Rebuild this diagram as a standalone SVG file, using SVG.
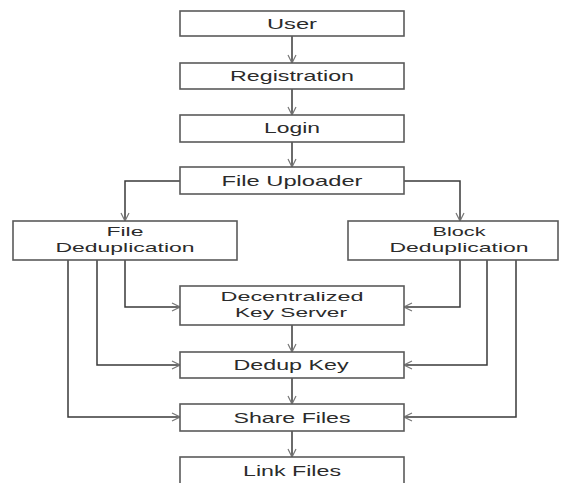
<svg xmlns="http://www.w3.org/2000/svg" width="561" height="483" viewBox="0 0 561 483">
<style>
.box{fill:#fff;stroke:#5a5a5a;stroke-width:1.6}
.t{font-family:"Liberation Sans",Arial,sans-serif;font-size:15px;fill:#2b2b2b;text-anchor:middle}
.t2{font-size:13.5px}
.c{fill:none;stroke:#3a3a3a;stroke-width:1.5;marker-end:url(#ah)}
</style>
<defs>
<marker id="ah" viewBox="0 0 10 10" refX="10" refY="5" markerWidth="10" markerHeight="10" markerUnits="userSpaceOnUse" orient="auto">
<path d="M2,1 L10,5 L2,9" fill="none" stroke="#777" stroke-width="1.2"/>
</marker>
</defs>
<rect width="561" height="483" fill="#fff"/>
<g id="connectors">
<path class="c" d="M292,36 V63"/>
<path class="c" d="M292,89 V115"/>
<path class="c" d="M292,142 V167"/>
<path class="c" d="M180,181 H125 V221"/>
<path class="c" d="M404,181 H460 V221"/>
<path class="c" d="M125,260 V307 H180"/>
<path class="c" d="M97,260 V365 H180"/>
<path class="c" d="M68,260 V417 H180"/>
<path class="c" d="M460,260 V307 H404"/>
<path class="c" d="M487,260 V365 H404"/>
<path class="c" d="M516,260 V417 H404"/>
<path class="c" d="M292,325 V352"/>
<path class="c" d="M292,378 V404"/>
<path class="c" d="M292,431 V457"/>
</g>
<g id="user"><rect class="box" x="180" y="11" width="224" height="25"/><text class="t" x="292" y="29" textLength="50" lengthAdjust="spacingAndGlyphs">User</text></g>
<g id="registration"><rect class="box" x="180" y="63" width="224" height="26"/><text class="t" x="292" y="81" textLength="124" lengthAdjust="spacingAndGlyphs">Registration</text></g>
<g id="login"><rect class="box" x="180" y="115" width="224" height="27"/><text class="t" x="292" y="133" textLength="56" lengthAdjust="spacingAndGlyphs">Login</text></g>
<g id="file-uploader"><rect class="box" x="180" y="167" width="224" height="27"/><text class="t" x="292" y="186" textLength="141" lengthAdjust="spacingAndGlyphs">File Uploader</text></g>
<g id="file-dedup"><rect class="box" x="13" y="221" width="224" height="39"/><text class="t t2" x="125" y="236" textLength="37" lengthAdjust="spacingAndGlyphs">File</text><text class="t t2" x="125" y="252" textLength="139" lengthAdjust="spacingAndGlyphs">Deduplication</text></g>
<g id="block-dedup"><rect class="box" x="348" y="221" width="210" height="39"/><text class="t t2" x="459" y="236" textLength="53" lengthAdjust="spacingAndGlyphs">Block</text><text class="t t2" x="459" y="252" textLength="139" lengthAdjust="spacingAndGlyphs">Deduplication</text></g>
<g id="key-server"><rect class="box" x="180" y="286" width="224" height="39"/><text class="t t2" x="292" y="301" textLength="143" lengthAdjust="spacingAndGlyphs">Decentralized</text><text class="t t2" x="291" y="317" textLength="112" lengthAdjust="spacingAndGlyphs">Key Server</text></g>
<g id="dedup-key"><rect class="box" x="180" y="352" width="224" height="26"/><text class="t" x="291" y="370" textLength="115" lengthAdjust="spacingAndGlyphs">Dedup Key</text></g>
<g id="share-files"><rect class="box" x="180" y="404" width="224" height="27"/><text class="t" x="292" y="423" textLength="117" lengthAdjust="spacingAndGlyphs">Share Files</text></g>
<g id="link-files"><rect class="box" x="180" y="457" width="224" height="30"/><text class="t" x="292" y="476" textLength="98" lengthAdjust="spacingAndGlyphs">Link Files</text></g>
</svg>
